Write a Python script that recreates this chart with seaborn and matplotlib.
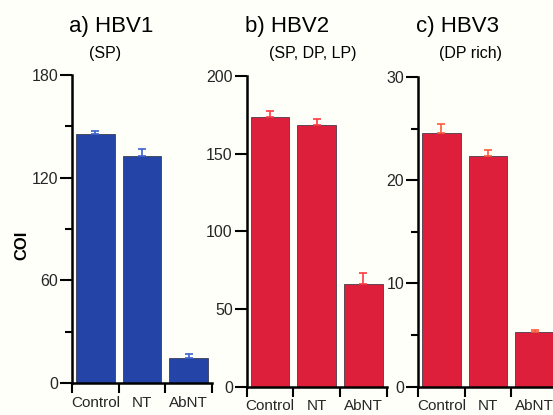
"""Grouped COI bar panels for HBV1/HBV2/HBV3."""

import matplotlib
matplotlib.use("Agg")
import matplotlib.pyplot as plt
import numpy as np
import seaborn as sns

# Data
categories = ["Control", "NT", "AbNT"]

hbv1_coi = [145.5, 132.8, 14.4]
hbv1_err = [1.5, 4.0, 2.3]

hbv2_coi = [173.8, 168.3, 65.9]
hbv2_err = [3.5, 4.0, 7.0]

hbv3_coi = [24.6, 22.35, 5.27]
hbv3_err = [0.8, 0.6, 0.25]

titles = ["a) HBV1", "b) HBV2", "c) HBV3"]
subtitles = ["(SP)", "(SP, DP, LP)", "(DP rich)"]

hbv1_major = [0, 60, 120, 180]
hbv1_minor = [30, 90, 150]
hbv2_major = [0, 50, 100, 150, 200]
hbv2_minor = []
hbv3_major = [0, 10, 20, 30]
hbv3_minor = [5, 15, 25]

BLUE = "#2444a8"
RED = "#de1f3c"

sns.set_theme(style="ticks")
plt.rcParams["font.family"] = ["Liberation Sans", "DejaVu Sans"]

fig = plt.figure(figsize=(5.53, 4.15), dpi=100)
fig.patch.set_facecolor("#fffffa")

panels = [
    dict(vals=hbv1_coi, err=hbv1_err, major=hbv1_major, minor=hbv1_minor,
         color=BLUE, ecolor="#3a62d0", pos=[0.1302, 0.0771, 0.2533, 0.7422],
         title_xy=(0.201, 0.935), sub_xy=(0.190, 0.870)),
    dict(vals=hbv2_coi, err=hbv2_err, major=hbv2_major, minor=hbv2_minor,
         color=RED, ecolor="#ff3a40", pos=[0.4461, 0.0682, 0.2533, 0.7487],
         title_xy=(0.520, 0.935), sub_xy=(0.566, 0.870)),
    dict(vals=hbv3_coi, err=hbv3_err, major=hbv3_major, minor=hbv3_minor,
         color=RED, ecolor="#ff5a3a", pos=[0.7559, 0.0682, 0.2533, 0.7463],
         title_xy=(0.828, 0.935), sub_xy=(0.850, 0.870)),
]

for i, p in enumerate(panels):
    ax = fig.add_axes(p["pos"])
    ax.set_facecolor("none")

    sns.barplot(x=categories, y=p["vals"], color=p["color"], width=0.83,
                edgecolor="#2a2a3a", linewidth=0.5, saturation=1, ax=ax)

    # one-sided (upper) error bars
    ax.errorbar(np.arange(len(categories)), p["vals"],
                yerr=[np.zeros(len(categories)), p["err"]],
                fmt="none", ecolor=p["ecolor"], elinewidth=1.2,
                capsize=3, capthick=1.2)

    ax.set_xlim(-0.5, 2.5)
    ax.set_ylim(p["major"][0], p["major"][-1])

    # category boundaries carry the tick marks; labels sit at centres
    ax.set_xticks([-0.5, 0.5, 1.5, 2.5])
    ax.set_xticklabels([])
    ax.set_xticks(range(len(categories)), minor=True)
    ax.set_xticklabels(categories, minor=True, fontsize=11)
    ax.tick_params(axis="x", which="major", length=7, width=1.5,
                   direction="out", color="black")
    ax.tick_params(axis="x", which="minor", length=0, pad=9)

    ax.set_yticks(p["major"])
    ax.set_yticks(p["minor"], minor=True)
    ax.tick_params(axis="y", which="major", length=9, width=1.5,
                   labelsize=11.5, pad=1, color="black")
    ax.tick_params(axis="y", which="minor", length=5, width=1.5,
                   color="black")

    for side in ["top", "right"]:
        ax.spines[side].set_visible(False)
    for side in ["left", "bottom"]:
        ax.spines[side].set_linewidth(1.8)
        ax.spines[side].set_color("black")

    ax.set_xlabel("")
    ax.set_ylabel("")

    fig.text(*p["title_xy"], titles[i], ha="center", va="center",
             fontsize=16, color="black")
    fig.text(*p["sub_xy"], subtitles[i], ha="center", va="center",
             fontsize=11.5, color="black")

fig.text(0.040, 0.41, "COI", rotation=90, ha="center", va="center",
         fontsize=12, fontweight="bold", color="black")

fig.savefig("out.png", dpi=100, facecolor=fig.get_facecolor())
